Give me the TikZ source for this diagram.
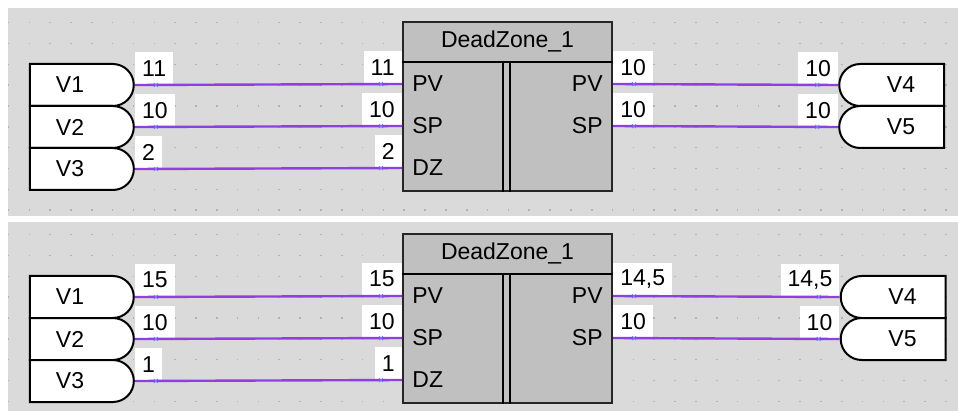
\documentclass[tikz,border=0pt]{standalone}
\usepackage{fontspec}
\setmainfont{Liberation Sans}
\usetikzlibrary{calc,positioning,shapes.misc,decorations.markings}
\definecolor{panelgray}{RGB}{218,218,218}
\definecolor{blockgray}{RGB}{192,192,192}
\definecolor{wirepurple}{RGB}{140,64,224}
\definecolor{dotgray}{RGB}{178,178,178}
\definecolor{crossblue}{RGB}{120,120,250}
\newcommand{\xcross}{\draw[crossblue,line width=0.4pt](-1pt,-1pt)--(1pt,1pt)(-1pt,1pt)--(1pt,-1pt);}
\begin{document}
\begin{tikzpicture}[x=0.5pt,y=-0.5pt,
  every node/.style={font=\fontsize{11.5}{13}\selectfont},
  src/.style={rounded rectangle,rounded rectangle west arc=none,draw=black,fill=white,line width=1pt,minimum width=52pt,minimum height=21pt,inner sep=0pt},
  snk/.style={rounded rectangle,rounded rectangle east arc=none,draw=black,fill=white,line width=1pt,minimum width=52.5pt,minimum height=21pt,inner sep=0pt},
  block/.style={draw=black!85,fill=blockgray,line width=1pt,minimum width=104.5pt,minimum height=84.5pt,inner sep=0pt},
  port/.style={inner sep=0pt},
  val/.style={fill=white,inner xsep=3.5pt,inner ysep=0pt,minimum height=16.5pt},
  wire/.style={draw=wirepurple,line width=1.2pt,postaction={decorate},
    decoration={markings,mark=at position 10.5pt with {\xcross},mark=at position -10.5pt with {\xcross}}}]
\fill[white](0,0)rectangle(958,411);
\useasboundingbox(0,0)rectangle(958,411);
\begin{scope}
\fill[panelgray](8,8)rectangle(958,216);
\foreach \i in {0,...,45}{\foreach \j in {0,...,9}{\fill[dotgray](7.7+20.83*\i,21.9+20.83*\j)rectangle++(1.6,1.6);}}
\node[src](v1a)at(81,85){V1\hspace*{11pt}};
\node[src](v2a)at(81,127){V2\hspace*{11pt}};
\node[src](v3a)at(81,169){V3\hspace*{11pt}};
\node[snk](v4a)at(892.5,85){\hspace*{8.5pt}V4};
\node[snk](v5a)at(892.5,127){\hspace*{8.5pt}V5};
\node[block](dza)at(507.5,106.5){};
\draw[line width=1pt]($(dza.north west)+(0,41)$)--($(dza.north east)+(0,41)$);
\draw[line width=1pt]($(dza.north west)+(101,41)$)--($(dza.south west)+(101,0)$);
\draw[line width=1pt]($(dza.north west)+(108,41)$)--($(dza.south west)+(108,0)$);
\node(tta)at($(dza.north)+(0,20.5)$){DeadZone\_1};
\coordinate(ipva)at($(dza.north west)+(0,63)$);
\coordinate(ispa)at($(dza.north west)+(0,105)$);
\coordinate(idza)at($(dza.north west)+(0,147)$);
\coordinate(opva)at($(dza.north east)+(0,63)$);
\coordinate(ospa)at($(dza.north east)+(0,105)$);
\node[port,right=5pt of ipva](pva){PV};
\node[port,right=5pt of ispa](spa){SP};
\node[port,right=5pt of idza](dzla){DZ};
\node[port,left=5pt of opva](opa){PV};
\node[port,left=5pt of ospa](osa){SP};
\node[val,anchor=south west](l1a)at(v1a.east){11};
\node[val,anchor=south west](l2a)at(v2a.east){10};
\node[val,anchor=south west](l3a)at(v3a.east){2};
\node[val,anchor=south east](r1a)at(ipva){11};
\node[val,anchor=south east](r2a)at(ispa){10};
\node[val,anchor=south east](r3a)at(idza){2};
\node[val,anchor=south west](l4a)at(opva){10};
\node[val,anchor=south west](l5a)at(ospa){10};
\node[val,anchor=south east](r4a)at(v4a.west){10};
\node[val,anchor=south east](r5a)at(v5a.west){10};
\draw[wire](v1a.east)--(ipva);
\draw[wire](v2a.east)--(ispa);
\draw[wire](v3a.east)--(idza);
\draw[wire](opva)--(v4a.west);
\draw[wire](ospa)--(v5a.west);
\end{scope}

%%%------------------------------------------------------------------------------------------------------------
\begin{scope}[shift={(0,212)}]
\fill[panelgray](8,10)rectangle(958,199);
\foreach \i in {0,...,45}{\foreach \j in {0,...,8}{\fill[dotgray](7.7+20.83*\i,21.9+20.83*\j)rectangle++(1.6,1.6);}}
\node[src](v1b)at(81,85){V1\hspace*{11pt}};
\node[src](v2b)at(81,127){V2\hspace*{11pt}};
\node[src](v3b)at(81,169){V3\hspace*{11pt}};
\node[snk](v4b)at(894,85){\hspace*{8.5pt}V4};
\node[snk](v5b)at(894,127){\hspace*{8.5pt}V5};
\node[block](dzb)at(507.5,106.5){};
\draw[line width=1pt]($(dzb.north west)+(0,41)$)--($(dzb.north east)+(0,41)$);
\draw[line width=1pt]($(dzb.north west)+(101,41)$)--($(dzb.south west)+(101,0)$);
\draw[line width=1pt]($(dzb.north west)+(108,41)$)--($(dzb.south west)+(108,0)$);
\node(ttb)at($(dzb.north)+(0,20.5)$){DeadZone\_1};
\coordinate(ipvb)at($(dzb.north west)+(0,63)$);
\coordinate(ispb)at($(dzb.north west)+(0,105)$);
\coordinate(idzb)at($(dzb.north west)+(0,147)$);
\coordinate(opvb)at($(dzb.north east)+(0,63)$);
\coordinate(ospb)at($(dzb.north east)+(0,105)$);
\node[port,right=5pt of ipvb](pvb){PV};
\node[port,right=5pt of ispb](spb){SP};
\node[port,right=5pt of idzb](dzlb){DZ};
\node[port,left=5pt of opvb](opb){PV};
\node[port,left=5pt of ospb](osb){SP};
\node[val,anchor=south west](l1b)at(v1b.east){15};
\node[val,anchor=south west](l2b)at(v2b.east){10};
\node[val,anchor=south west](l3b)at(v3b.east){1};
\node[val,anchor=south east](r1b)at(ipvb){15};
\node[val,anchor=south east](r2b)at(ispb){10};
\node[val,anchor=south east](r3b)at(idzb){1};
\node[val,anchor=south west](l4b)at(opvb){14,5};
\node[val,anchor=south west](l5b)at(ospb){10};
\node[val,anchor=south east](r4b)at(v4b.west){14,5};
\node[val,anchor=south east](r5b)at(v5b.west){10};
\draw[wire](v1b.east)--(ipvb);
\draw[wire](v2b.east)--(ispb);
\draw[wire](v3b.east)--(idzb);
\draw[wire](opvb)--(v4b.west);
\draw[wire](ospb)--(v5b.west);
\end{scope}
\end{tikzpicture}
\end{document}
